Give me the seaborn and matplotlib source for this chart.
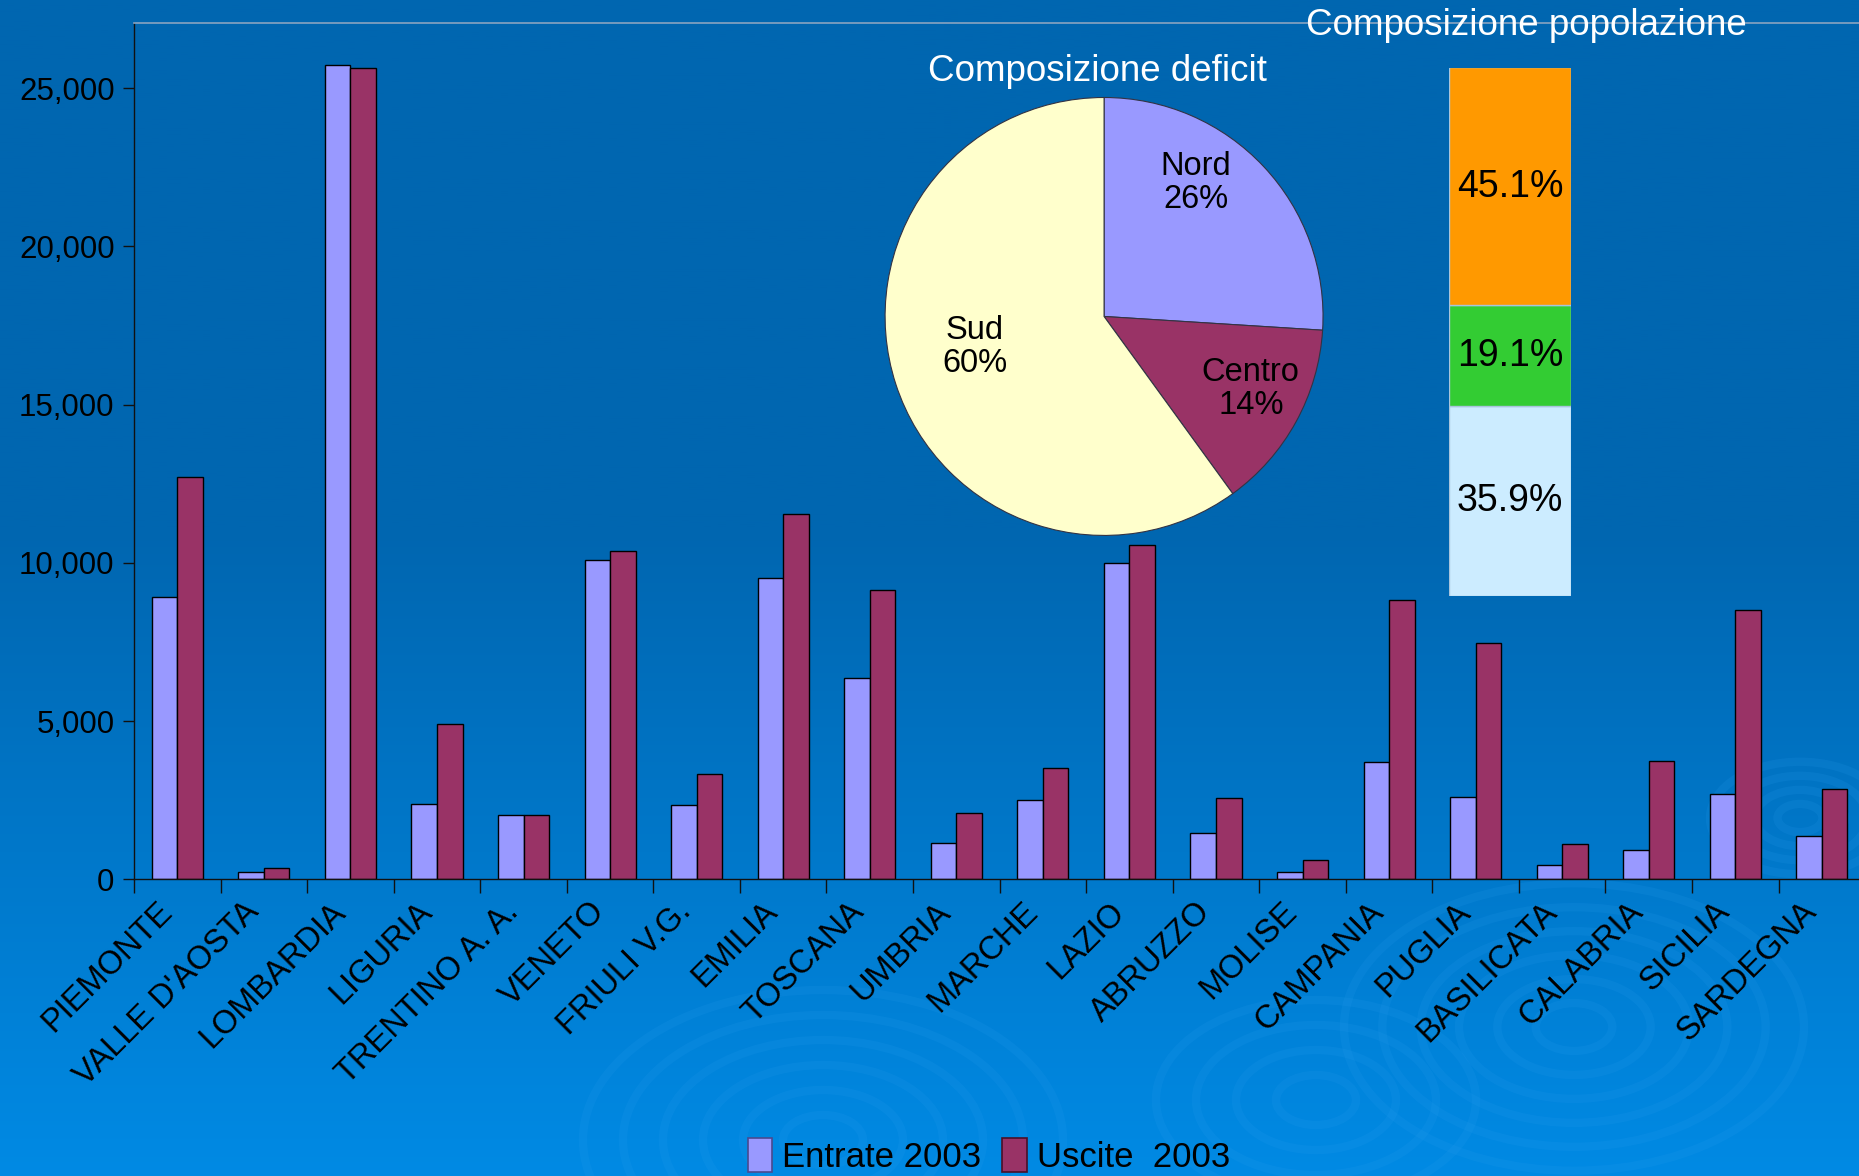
import numpy as np
import pandas as pd
import matplotlib
matplotlib.use("Agg")
import matplotlib.pyplot as plt
from matplotlib.patches import Ellipse, Patch
from matplotlib.ticker import FuncFormatter, FixedLocator
from matplotlib.transforms import ScaledTranslation
import seaborn as sns

# --- dati ---
regioni = ['PIEMONTE', "VALLE D'AOSTA", 'LOMBARDIA', 'LIGURIA', 'TRENTINO A. A.',
           'VENETO', 'FRIULI V.G.', 'EMILIA', 'TOSCANA', 'UMBRIA', 'MARCHE', 'LAZIO',
           'ABRUZZO', 'MOLISE', 'CAMPANIA', 'PUGLIA', 'BASILICATA', 'CALABRIA',
           'SICILIA', 'SARDEGNA']
entrate = [8930, 220, 25740, 2370, 2040, 10090, 2340, 9510, 6350, 1160,
           2500, 10000, 1450, 220, 3720, 2610, 440, 930, 2710, 1360]
uscite = [12700, 350, 25630, 4920, 2040, 10380, 3340, 11560, 9140, 2110,
          3530, 10580, 2580, 620, 8840, 7460, 1130, 3740, 8500, 2840]
serie = ['Entrate 2003', 'Uscite  2003']
colori_serie = ['#9999FF', '#993366']

deficit_aree = ['Nord', 'Centro', 'Sud']
deficit_pct = [26, 14, 60]
deficit_colori = ['#9999FF', '#993366', '#FFFFCC']

# composizione popolazione, dal basso verso l'alto
pop_pct = [35.9, 19.1, 45.1]
pop_colori = ['#CCECFF', '#33CC33', '#FF9900']

df = pd.DataFrame({
    'regione': regioni * 2,
    'valore': entrate + uscite,
    'serie': [serie[0]] * len(regioni) + [serie[1]] * len(regioni),
})

sns.set_theme(style='white')
plt.rcParams['font.family'] = ['Liberation Sans', 'DejaVu Sans']

fig = plt.figure(figsize=(18.59, 11.76), dpi=100)

# --- sfondo a gradiente con "onde" ---
bg = fig.add_axes([0, 0, 1, 1], zorder=-10)
t = np.linspace(0, 1, 600)
top = np.array([0x00, 0x66, 0xB0]) / 255
bot = np.array([0x00, 0x8A, 0xE4]) / 255
k = np.clip((t - 0.45) / 0.55, 0, 1)[:, None]
grad = (top * (1 - k) + bot * k)[:, None, :]
bg.imshow(grad, aspect='auto', extent=[0, 1, 0, 1], origin='upper')
for cx, cy, rmax, n in [(1574, 1027, 230, 6), (823, 1140, 240, 6), (1316, 1100, 160, 4),
                        (1800, 818, 90, 4)]:
    for i in range(1, n + 1):
        r = rmax * i / n
        bg.add_patch(Ellipse((cx / 1859, 1 - cy / 1176), 2 * r / 1859, 1.25 * r / 1176,
                             fill=False, lw=6, ec='#2FA0F0', alpha=0.14))
bg.set_xlim(0, 1)
bg.set_ylim(0, 1)
bg.axis('off')

# --- grafico a barre principale ---
ax = fig.add_axes([0.0721, 0.2523, 0.9312, 0.7281])
sns.barplot(data=df, x='regione', y='valore', hue='serie', palette=colori_serie,
            width=0.59, saturation=1, edgecolor='black', linewidth=1, ax=ax, legend=False)
ax.patch.set_alpha(0)
ax.set_xlim(-0.5, len(regioni) - 0.5)
ax.set_ylim(0, 27060)
ax.set_yticks(range(0, 25001, 5000))
ax.yaxis.set_major_formatter(FuncFormatter(lambda v, p: f'{v:,.0f}'))
ax.set_xlabel('')
ax.set_ylabel('')
for s in ['left', 'bottom']:
    ax.spines[s].set_color('#111111')
    ax.spines[s].set_linewidth(1)
ax.spines['top'].set_color('#8AA4C0')
ax.spines['top'].set_linewidth(1.2)
ax.spines['right'].set_visible(False)

ax.tick_params(axis='y', direction='out', length=8, width=1, color='#111111',
               labelsize=22.5, labelcolor='black', pad=6, left=True)
ax.xaxis.set_minor_locator(FixedLocator(np.arange(-0.5, len(regioni), 1)))
ax.tick_params(axis='x', which='minor', direction='out', length=10, width=1,
               color='#111111', bottom=True)
ax.tick_params(axis='x', which='major', length=0, pad=20)
ax.set_xticks(range(len(regioni)))
ax.set_xticklabels(regioni, rotation=45, ha='right', va='center',
                   rotation_mode='anchor', fontsize=23.5, color='black')
shift = ScaledTranslation(-0.10, 0, fig.dpi_scale_trans)
for lbl in ax.get_xticklabels():
    lbl.set_transform(lbl.get_transform() + shift)

# --- legenda ---
handles = [Patch(facecolor=colori_serie[0], edgecolor='#4A4A90', linewidth=1.2),
           Patch(facecolor=colori_serie[1], edgecolor='#4A1028', linewidth=1.2)]
fig.legend(handles, serie, loc='center', bbox_to_anchor=(0.532, 0.017), ncol=2,
           frameon=False, fontsize=25, handlelength=0.7, handleheight=1.1,
           handletextpad=0.3, columnspacing=0.6, borderpad=0, labelcolor='black')

# --- torta: composizione deficit ---
pax = fig.add_axes([0.4761, 0.5447, 0.2356, 0.3724])
pax.pie(deficit_pct, colors=deficit_colori, startangle=90, counterclock=False,
        wedgeprops=dict(edgecolor='#333344', linewidth=0.8))
pax.set_xlim(-1.0, 1.0)
pax.set_ylim(-1.0, 1.0)
pie_label_pos = [(0.42, 0.61), (0.67, -0.33), (-0.59, -0.14)]
for (x, y), area, pct in zip(pie_label_pos, deficit_aree, deficit_pct):
    pax.text(x, y, f'{area}\n{pct}%', ha='center', va='center', fontsize=23.5,
             color='black', linespacing=1.1)
fig.text(0.5901, 0.9396, 'Composizione deficit', color='white', fontsize=26.5,
         ha='center', va='center')

# --- barra in pila: composizione popolazione ---
sax = fig.add_axes([0.7795, 0.4932, 0.0656, 0.4493])
base = 0
for pct, col in zip(pop_pct, pop_colori):
    bars = sax.bar(0, pct, bottom=base, width=1, color=col, edgecolor='#A8C4DC', linewidth=1)
    sax.bar_label(bars, labels=[f'{pct:.1f}%'], label_type='center', fontsize=27, color='black')
    base += pct
sax.set_xlim(-0.5, 0.5)
sax.set_ylim(0, 100)
sax.axis('off')
fig.text(0.8209, 0.9779, 'Composizione popolazione', color='white', fontsize=26.5,
         ha='center', va='center')

fig.savefig('out.png', dpi=100)
